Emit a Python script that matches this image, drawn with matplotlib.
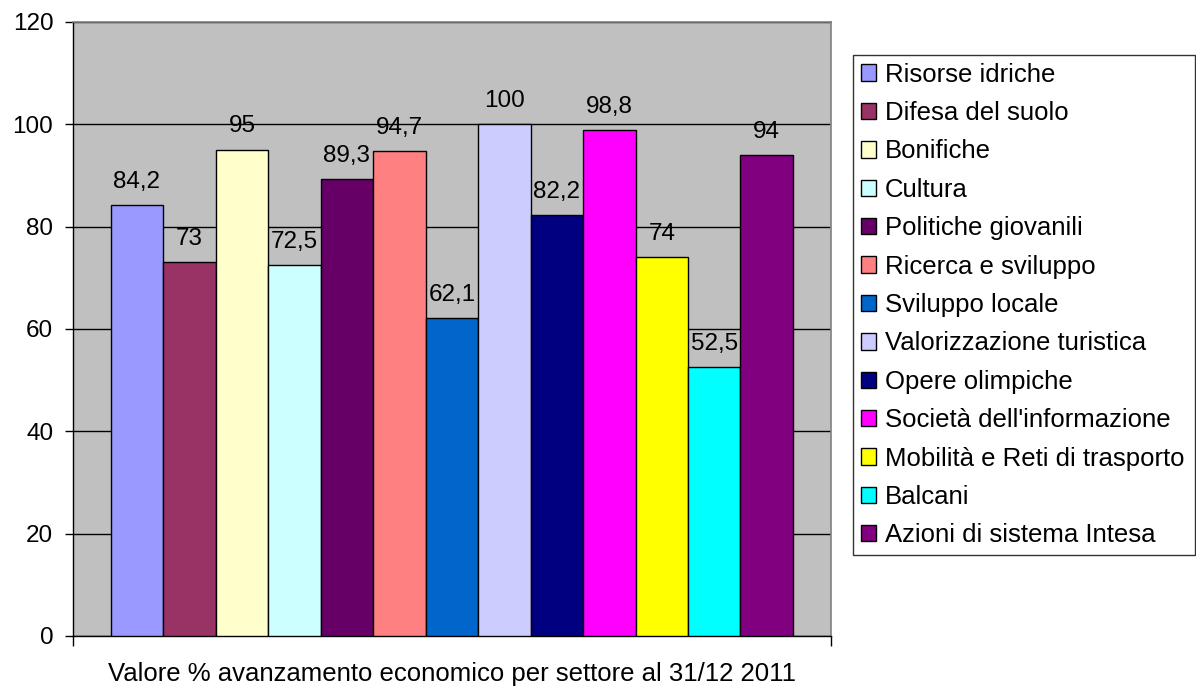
import matplotlib
matplotlib.use("Agg")
import matplotlib.pyplot as plt
from matplotlib.patches import Patch

# ---- data ----
sectors = ["Risorse idriche", "Difesa del suolo", "Bonifiche", "Cultura",
           "Politiche giovanili", "Ricerca e sviluppo", "Sviluppo locale",
           "Valorizzazione turistica", "Opere olimpiche",
           "Società dell'informazione", "Mobilità e Reti di trasporto",
           "Balcani", "Azioni di sistema Intesa"]
values = [84.2, 73, 95, 72.5, 89.3, 94.7, 62.1, 100, 82.2, 98.8, 74, 52.5, 94]
colors = ["#9999FF", "#993366", "#FFFFCC", "#CCFFFF", "#660066", "#FF8080",
          "#0066CC", "#CCCCFF", "#000080", "#FF00FF", "#FFFF00", "#00FFFF",
          "#800080"]
yticks = [0, 20, 40, 60, 80, 100, 120]
xlabel = "Valore % avanzamento economico per settore al 31/12 2011"

plt.rcParams['font.family'] = ['Liberation Sans', 'DejaVu Sans']
FS = 17.5
LFS = 18.5
XFS = 18.5

W, H = 1196, 688
fig = plt.figure(figsize=(W / 100, H / 100), dpi=100)
fig.patch.set_facecolor("white")
left, right, top, bottom = 72.7, 831.0, 21.9, 636.0
ax = fig.add_axes([left / W, (H - bottom) / H, (right - left) / W, (bottom - top) / H])
ax.set_facecolor("#C0C0C0")

n = len(values)
xs = list(range(n))
gap = 0.725
bars = ax.bar(xs, values, width=1.0, color=colors, edgecolor="black",
              linewidth=1.0, zorder=3)
ax.set_xlim(-0.5 - gap, n - 0.5 + gap)
ax.set_ylim(0, 120)
ax.set_yticks(yticks)
ax.set_yticklabels([str(t) for t in yticks], fontsize=FS)
ax.yaxis.grid(True, color="black", linewidth=1.0, zorder=1)
ax.set_axisbelow(True)
ax.tick_params(axis="y", direction="out", length=6, width=1, pad=8, color="black")
ax.set_xticks([-0.5 - gap, n - 0.5 + gap])
ax.set_xticklabels(["", ""])
ax.tick_params(axis="x", direction="out", length=7, width=1, color="black")

for side in ["top", "right"]:
    ax.spines[side].set_color("#808080")
    ax.spines[side].set_linewidth(1.2)
for side in ["left", "bottom"]:
    ax.spines[side].set_color("black")
    ax.spines[side].set_linewidth(1.0)

def fmt(v):
    s = ("%g" % v)
    return s.replace(".", ",")

for x, v in zip(xs, values):
    ax.annotate(fmt(v), (x, v), xytext=(0, 12.5), textcoords="offset points",
                ha="center", va="baseline", fontsize=FS, zorder=5)

ax.set_xlabel(xlabel, fontsize=XFS, labelpad=8)

handles = [Patch(facecolor=c, edgecolor="black", linewidth=1.0) for c in colors]
x0, y0, x1, y1 = 853.3, 55.0, 1195.0, 547.0
leg = fig.legend(handles, sectors, loc="upper left",
                 bbox_to_anchor=(x0 / W, 1 - y1 / H, (x1 - x0) / W, (y1 - y0) / H),
                 mode="expand",
                 fontsize=LFS, frameon=True, fancybox=False, shadow=False,
                 handlelength=0.6, handleheight=0.6, handletextpad=0.33,
                 labelspacing=0.56, borderpad=0.3, borderaxespad=0.0)
fr = leg.get_frame()
fr.set_edgecolor("black")
fr.set_linewidth(1.0)
fr.set_facecolor("white")

fig.savefig("out.png", dpi=100)
